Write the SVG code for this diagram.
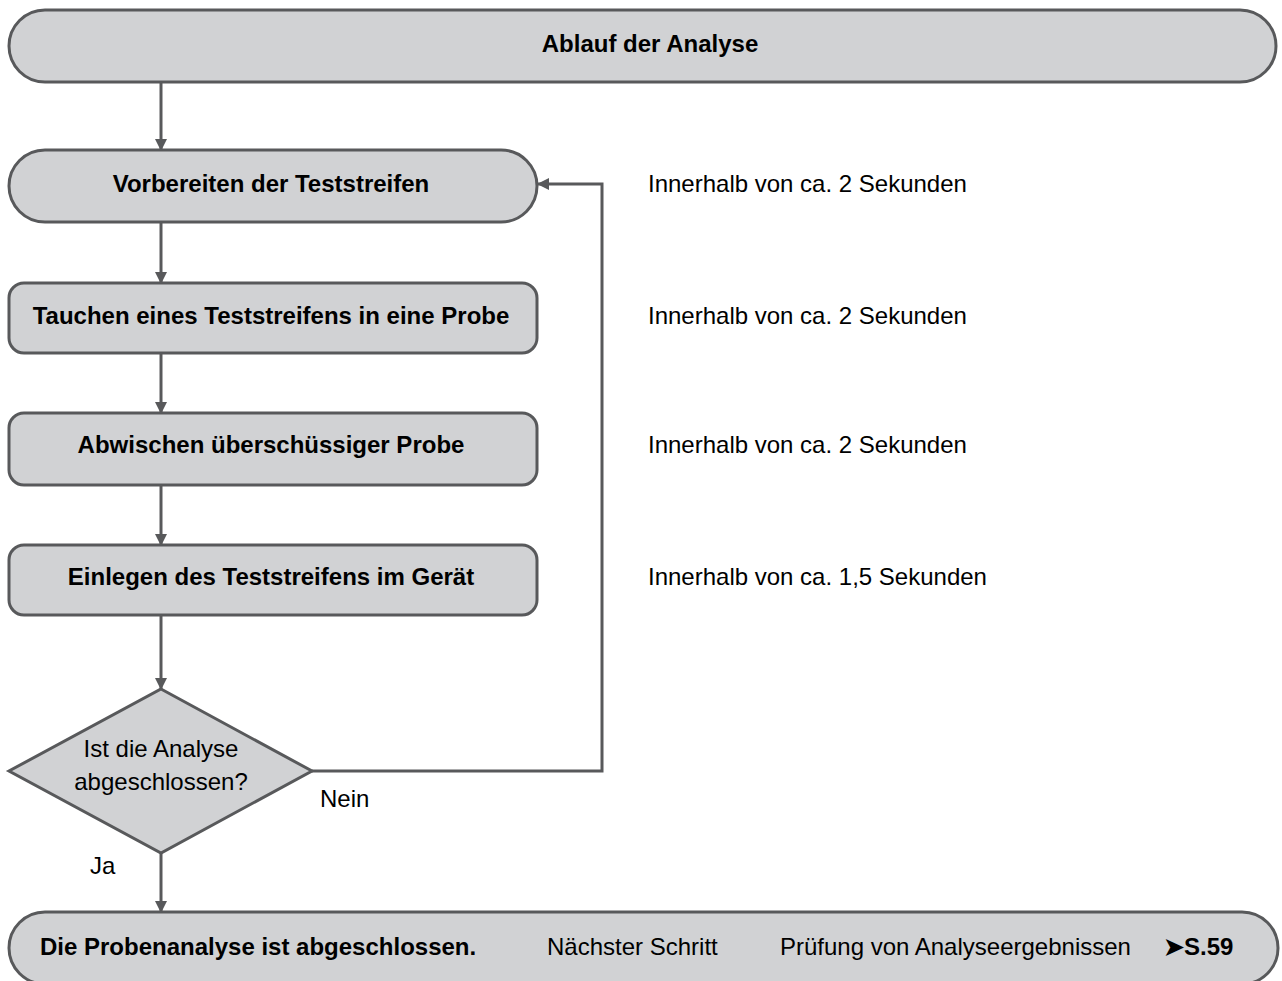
<svg xmlns="http://www.w3.org/2000/svg" width="1282" height="981" viewBox="0 0 1282 981">
<defs>
<style>
.box{fill:#d1d2d4;stroke:#58595b;stroke-width:3}
.b{font-family:"Liberation Sans",Arial,sans-serif;font-weight:bold;font-size:24px;fill:#000}
.r{font-family:"Liberation Sans",Arial,sans-serif;font-size:24px;fill:#000}
.c{text-anchor:middle}
.ln{fill:none;stroke:#58595b;stroke-width:3}
</style>
<marker id="ah" markerUnits="userSpaceOnUse" markerWidth="12" markerHeight="12" viewBox="0 0 12 12" refX="11" refY="6" orient="auto">
<path d="M0,0 L12,6 L0,12 z" fill="#58595b"/>
</marker>
</defs>
<rect width="1282" height="981" fill="#fff"/>
<g id="connectors">
<line class="ln" x1="161" y1="82" x2="161" y2="150" marker-end="url(#ah)"/>
<line class="ln" x1="161" y1="222" x2="161" y2="283" marker-end="url(#ah)"/>
<line class="ln" x1="161" y1="353" x2="161" y2="413" marker-end="url(#ah)"/>
<line class="ln" x1="161" y1="485" x2="161" y2="545" marker-end="url(#ah)"/>
<line class="ln" x1="161" y1="615" x2="161" y2="689" marker-end="url(#ah)"/>
<line class="ln" x1="161" y1="853" x2="161" y2="912" marker-end="url(#ah)"/>
<polyline class="ln" points="312,771 602,771 602,184 538,184" marker-end="url(#ah)"/>
<text class="r" x="320" y="807">Nein</text>
<text class="r" x="90" y="874">Ja</text>
</g>
<g id="start">
<rect class="box" x="9" y="10" width="1267" height="72" rx="36" ry="36"/>
<text class="b c" x="650" y="52">Ablauf der Analyse</text>
</g>
<g id="prepare">
<rect class="box" x="9" y="150" width="528" height="72" rx="36" ry="36"/>
<text class="b c" x="271" y="192">Vorbereiten der Teststreifen</text>
<text class="r" x="648" y="192">Innerhalb von ca. 2 Sekunden</text>
</g>
<g id="dip">
<rect class="box" x="9" y="283" width="528" height="70" rx="15" ry="15"/>
<text class="b c" x="271" y="324">Tauchen eines Teststreifens in eine Probe</text>
<text class="r" x="648" y="324">Innerhalb von ca. 2 Sekunden</text>
</g>
<g id="wipe">
<rect class="box" x="9" y="413" width="528" height="72" rx="15" ry="15"/>
<text class="b c" x="271" y="453">Abwischen überschüssiger Probe</text>
<text class="r" x="648" y="453">Innerhalb von ca. 2 Sekunden</text>
</g>
<g id="insert">
<rect class="box" x="9" y="545" width="528" height="70" rx="15" ry="15"/>
<text class="b c" x="271" y="585">Einlegen des Teststreifens im Gerät</text>
<text class="r" x="648" y="585">Innerhalb von ca. 1,5 Sekunden</text>
</g>
<g id="decision">
<polygon class="box" points="161,689 312,771 161,853 9,771"/>
<text class="r c" x="161" y="757">Ist die Analyse</text>
<text class="r c" x="161" y="790">abgeschlossen?</text>
</g>
<g id="end">
<rect class="box" x="9" y="912" width="1269" height="72" rx="36" ry="36"/>
<text class="b" x="40" y="955">Die Probenanalyse ist abgeschlossen.</text>
<text class="r" x="547" y="955">Nächster Schritt</text>
<text class="r" x="780" y="955">Prüfung von Analyseergebnissen</text>
<text class="b" x="1164" y="955">➤S.59</text>
</g>
</svg>
